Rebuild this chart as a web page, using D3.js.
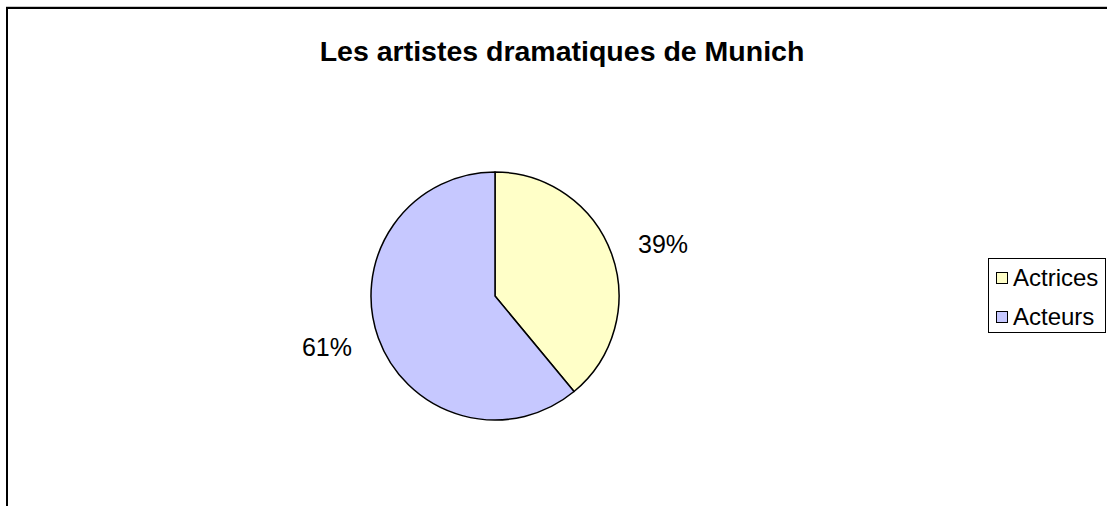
<!DOCTYPE html>
<html lang="fr">
<head>
<meta charset="UTF-8">
<title>Les artistes dramatiques de Munich</title>
<script src="https://cdn.jsdelivr.net/npm/d3@7"></script>
<style>
    body { margin: 0; background: #fff; }
    svg { display: block; font-family: "Liberation Sans", Arial, sans-serif; }
</style>
</head>
<body>
<script>
    // data
    const categories = ["Actrices", "Acteurs"]
    const values = [39, 61]
    const colors = ["#FFFFC8", "#C6C8FF"]
    const title = "Les artistes dramatiques de Munich"

    const w = 1107
    const h = 506
    const cx = 495, cy = 296, r = 124

    const svg = d3.select("body").append("svg")
        .attr("width", w)
        .attr("height", h)

    svg.append("rect").attr("width", w).attr("height", h).attr("fill", "#fff")

    // faint line above the chart area
    svg.append("line")
        .attr("x1", 6).attr("x2", w).attr("y1", 6.5).attr("y2", 6.5)
        .attr("stroke", "#c8c8c8").attr("stroke-width", 1)

    // chart area border, runs off the right and bottom
    svg.append("rect")
        .attr("x", 7).attr("y", 8)
        .attr("width", w + 20).attr("height", h + 20)
        .attr("fill", "none")
        .attr("stroke", "#000")
        .attr("stroke-width", 2)

    svg.append("text")
        .attr("x", 562)
        .attr("y", 61)
        .attr("text-anchor", "middle")
        .style("font-size", "28.5px")
        .style("font-weight", "bold")
        .text(title)

    const total = d3.sum(values)
    const data = categories.map((c, i) => ({ name: c, value: values[i], color: colors[i] }))

    const pie = d3.pie().sort(null).value(d => d.value)
    const arcs = pie(data)
    const arc = d3.arc().innerRadius(0).outerRadius(r)

    const g = svg.append("g").attr("transform", `translate(${cx},${cy})`)

    g.selectAll("path")
        .data(arcs)
        .enter()
        .append("path")
        .attr("d", arc)
        .attr("fill", d => d.data.color)
        .attr("stroke", "#000")
        .attr("stroke-width", 1.5)
        .attr("stroke-linejoin", "round")

    //Percent labels, near edge just outside the pie
    const labelR = r + 28
    g.selectAll("text.pct")
        .data(arcs)
        .enter()
        .append("text")
        .attr("class", "pct")
        .attr("x", d => labelR * Math.sin((d.startAngle + d.endAngle) / 2))
        .attr("y", d => -labelR * Math.cos((d.startAngle + d.endAngle) / 2))
        .attr("dy", "0.35em")
        .attr("text-anchor", d => (d.startAngle + d.endAngle) / 2 < Math.PI ? "start" : "end")
        .style("font-size", "25px")
        .text(d => Math.round(d.data.value / total * 100) + "%")

    //Legend
    const legend = svg.append("g").attr("id", "legend")
    legend.append("rect")
        .attr("x", 988.5).attr("y", 258.5)
        .attr("width", 117).attr("height", 74)
        .attr("fill", "#fff")
        .attr("stroke", "#000")
        .attr("stroke-width", 1)

    const item = legend.selectAll("g.item")
        .data(data)
        .enter()
        .append("g")
        .attr("class", "item")
        .attr("transform", (d, i) => `translate(996, ${278 + i * 39})`)

    item.append("rect")
        .attr("x", 0.5).attr("y", -5.5)
        .attr("width", 11).attr("height", 11)
        .attr("fill", d => d.color)
        .attr("stroke", "#000")
        .attr("stroke-width", 1)

    item.append("text")
        .attr("x", 17)
        .attr("y", 0)
        .attr("dy", "0.35em")
        .style("font-size", "24px")
        .text(d => d.name)
</script>
</body>
</html>
